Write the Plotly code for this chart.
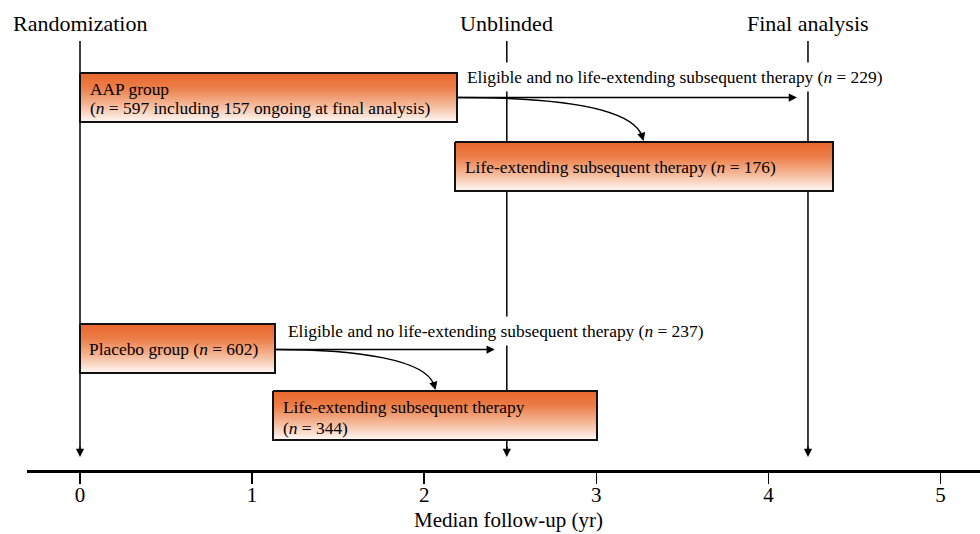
import plotly.graph_objects as go

# ---------------- data ----------------
milestone_labels = ["Randomization", "Unblinded", "Final analysis"]
milestone_years = [0, 2.48, 4.23]
tick_values = [0, 1, 2, 3, 4, 5]
tick_labels = ["0", "1", "2", "3", "4", "5"]
axis_title = "Median follow-up (yr)"

aap_total = 597
aap_ongoing = 157
aap_subsequent = 176
aap_eligible = 229
placebo_total = 602
placebo_subsequent = 344
placebo_eligible = 237

# ---------------- layout helpers ----------------
FONT = "Liberation Serif"
PX_PER_YR = 172.1
X0_PX = 80
FIG_W, FIG_H = 980, 534
AXIS_Y = 470          # pixel of the time axis
Y_TOP = 0             # pixel at top of plot area


def xpx(px):
    """convert a horizontal pixel position to axis units"""
    return (px - X0_PX) / PX_PER_YR


def dx(px):
    return px / PX_PER_YR


boxes = {
    "aap": dict(x0=xpx(80), x1=xpx(457), y0=73, y1=122),
    "aap_sub": dict(x0=xpx(455), x1=xpx(833), y0=142, y1=191),
    "pbo": dict(x0=xpx(80), x1=xpx(275), y0=324, y1=373),
    "pbo_sub": dict(x0=xpx(273), x1=xpx(597), y0=391, y1=440),
}

ORANGE_SCALE = [[0, "#E8672B"], [0.3, "#EC7D48"], [0.65, "#F5B898"], [1, "#FFF9F6"]]

fig = go.Figure()

# boxes with vertical gradient
for key, b in boxes.items():
    fig.add_trace(go.Scatter(
        x=[b["x0"], b["x1"], b["x1"], b["x0"], b["x0"]],
        y=[b["y0"], b["y0"], b["y1"], b["y1"], b["y0"]],
        mode="lines",
        fill="toself",
        fillgradient=dict(type="vertical", colorscale=ORANGE_SCALE,
                          start=b["y0"], stop=b["y1"]),
        line=dict(color="#111111", width=2),
        hoverinfo="skip",
        showlegend=False,
    ))

shapes = []
annotations = []

# milestone vertical lines + labels + arrowheads
LINE_TOP = 41
LINE_TIP = 457
for lab, yr in zip(milestone_labels, milestone_years):
    shapes.append(dict(type="line", xref="x", yref="y", x0=yr, x1=yr,
                       y0=LINE_TOP, y1=LINE_TIP - 4, layer="below",
                       line=dict(color="black", width=1.5)))
    annotations.append(dict(x=yr, y=LINE_TIP, ax=yr, ay=LINE_TIP - 12,
                            xref="x", yref="y", axref="x", ayref="y",
                            text="", showarrow=True, arrowhead=2,
                            arrowsize=1.1, arrowwidth=1.5, arrowcolor="black",
                            standoff=0, startstandoff=0))
    annotations.append(dict(x=yr, y=23, xref="x", yref="y", text=lab,
                            showarrow=False, xanchor="center", yanchor="middle",
                            font=dict(family=FONT, size=22, color="black")))

# box texts
TXT = dict(family=FONT, size=17.4, color="black")
b = boxes["aap"]
annotations.append(dict(x=b["x0"] + dx(8), y=89, xref="x", yref="y",
                        text="AAP group", showarrow=False, xanchor="left",
                        yanchor="middle", font=TXT))
annotations.append(dict(x=b["x0"] + dx(8), y=108, xref="x", yref="y",
                        text=f"(<i>n</i> = {aap_total} including {aap_ongoing} ongoing at final analysis)",
                        showarrow=False, xanchor="left", yanchor="middle", font=TXT))
b = boxes["aap_sub"]
annotations.append(dict(x=b["x0"] + dx(8), y=167, xref="x", yref="y",
                        text=f"Life-extending subsequent therapy (<i>n</i> = {aap_subsequent})",
                        showarrow=False, xanchor="left", yanchor="middle", font=TXT))
b = boxes["pbo"]
annotations.append(dict(x=b["x0"] + dx(7), y=349, xref="x", yref="y",
                        text=f"Placebo group (<i>n</i> = {placebo_total})",
                        showarrow=False, xanchor="left", yanchor="middle", font=TXT))
b = boxes["pbo_sub"]
annotations.append(dict(x=b["x0"] + dx(8), y=407, xref="x", yref="y",
                        text="Life-extending subsequent therapy",
                        showarrow=False, xanchor="left", yanchor="middle", font=TXT))
annotations.append(dict(x=b["x0"] + dx(8), y=428, xref="x", yref="y",
                        text=f"(<i>n</i> = {placebo_subsequent})",
                        showarrow=False, xanchor="left", yanchor="middle", font=TXT))

# eligible labels (white background hides the vertical lines)
annotations.append(dict(x=xpx(674.5), y=77, xref="x", yref="y",
                        text=f"Eligible and no life-extending subsequent therapy (<i>n</i> = {aap_eligible})",
                        showarrow=False, xanchor="center", yanchor="middle",
                        bgcolor="white", borderpad=4, font=TXT))
annotations.append(dict(x=xpx(495.5), y=331, xref="x", yref="y",
                        text=f"Eligible and no life-extending subsequent therapy (<i>n</i> = {placebo_eligible})",
                        showarrow=False, xanchor="center", yanchor="middle",
                        bgcolor="white", borderpad=4, font=TXT))

# straight arrows
ARW = dict(xref="x", yref="y", axref="x", ayref="y", text="", showarrow=True,
           arrowhead=2, arrowsize=1.1, arrowwidth=1.5, arrowcolor="black",
           standoff=0, startstandoff=0)
b = boxes["aap"]
annotations.append(dict(x=milestone_years[2] - dx(11), y=97.5, ax=b["x1"], ay=97.5, **ARW))
b = boxes["pbo"]
annotations.append(dict(x=milestone_years[1] - dx(12), y=349.5, ax=b["x1"], ay=349.5, **ARW))


# curved arrows
def curve(p0, c1, c2, p3):
    return (f"M {xpx(p0[0])},{p0[1]} C {xpx(c1[0])},{c1[1]} "
            f"{xpx(c2[0])},{c2[1]} {xpx(p3[0])},{p3[1]}")


shapes.append(dict(type="path", xref="x", yref="y",
                   path=curve((457, 97.5), (560, 97.5), (632, 108), (642, 136)),
                   line=dict(color="black", width=1.5)))
annotations.append(dict(x=xpx(643.5), y=141, ax=xpx(641), ay=132, **ARW))
shapes.append(dict(type="path", xref="x", yref="y",
                   path=curve((275, 349.5), (360, 349.5), (426, 360), (434, 385)),
                   line=dict(color="black", width=1.5)))
annotations.append(dict(x=xpx(435.5), y=390, ax=xpx(433), ay=381, **ARW))

# axis title
annotations.append(dict(x=xpx(508), y=(AXIS_Y - 520) / (AXIS_Y - Y_TOP),
                        xref="x", yref="paper",
                        text=axis_title, showarrow=False, xanchor="center",
                        yanchor="middle", font=dict(family=FONT, size=21, color="black")))

fig.update_layout(
    width=FIG_W, height=FIG_H,
    margin=dict(l=27, r=0, t=0, b=FIG_H - AXIS_Y),
    paper_bgcolor="white", plot_bgcolor="white",
    shapes=shapes, annotations=annotations,
    showlegend=False,
    xaxis=dict(range=[xpx(27), xpx(980)], showline=True, linecolor="black",
               linewidth=2.5, ticks="outside", ticklen=11, tickwidth=1.5,
               tickcolor="black", tickvals=tick_values, ticktext=tick_labels,
               tickfont=dict(family=FONT, size=21, color="black"),
               ticklabelstandoff=-7,
               showgrid=False, zeroline=False, fixedrange=True),
    yaxis=dict(range=[AXIS_Y, Y_TOP], visible=False, showgrid=False, zeroline=False,
               fixedrange=True),
)

fig.write_html(
    "out.html",
    config={"displayModeBar": False, "staticPlot": True},
    post_script="document.body.style.margin='0px';document.body.style.overflow='hidden';",
)
